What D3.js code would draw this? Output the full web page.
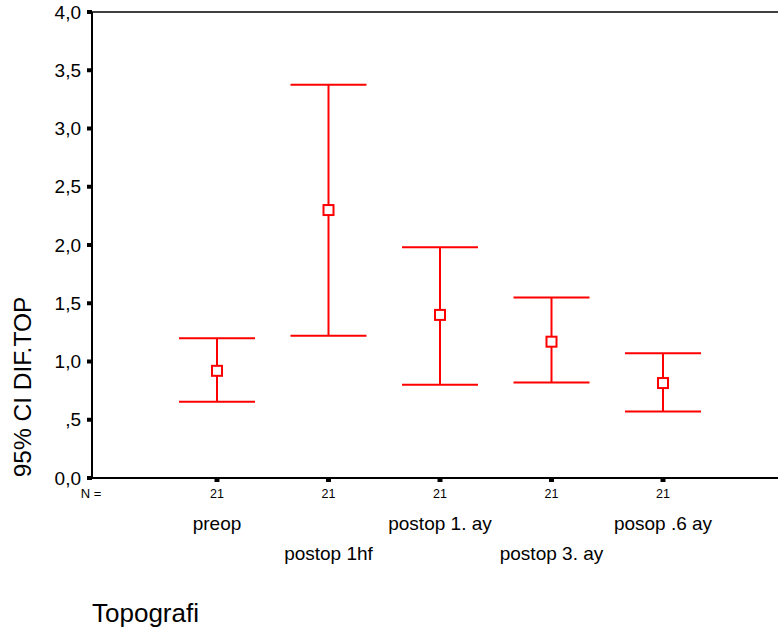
<!DOCTYPE html>
<html><head><meta charset="utf-8">
<script src="https://cdn.jsdelivr.net/npm/d3@7"></script>
<style>body{margin:0;background:#fff}svg{display:block;font-family:Arial,"Liberation Sans",sans-serif}</style>
</head><body>
<svg id="c" width="778" height="629"></svg>
<script>
const categories = ["preop","postop 1hf","postop 1. ay","postop 3. ay","posop .6 ay"];
const means = [0.92, 2.30, 1.40, 1.17, 0.815];
const upper = [1.20, 3.375, 1.98, 1.55, 1.07];
const lower = [0.655, 1.22, 0.80, 0.82, 0.57];
const nValues = [21, 21, 21, 21, 21];
const yTicks = [0, 0.5, 1.0, 1.5, 2.0, 2.5, 3.0, 3.5, 4.0];
const yTickLabels = ["0,0", ",5", "1,0", "1,5", "2,0", "2,5", "3,0", "3,5", "4,0"];

const svg = d3.select("#c");
const x0 = 92, yTop = 12, yBot = 478;
const x = d3.scalePoint().domain(categories).range([217, 663]);
const y = d3.scaleLinear().domain([0, 4]).range([yBot, yTop]);
const red = "#ff0000";

// frame lines
svg.append("line").attr("x1", x0).attr("x2", 778).attr("y1", yBot).attr("y2", yBot).attr("stroke", "#000").attr("stroke-width", 2);
svg.append("line").attr("x1", x0).attr("x2", 778).attr("y1", yTop).attr("y2", yTop).attr("stroke", "#000").attr("stroke-width", 1.5);
svg.append("line").attr("x1", x0).attr("x2", x0).attr("y1", yTop).attr("y2", yBot).attr("stroke", "#000").attr("stroke-width", 2);

// y ticks
const yAxis = svg.append("g");
yTicks.forEach((t, i) => {
  yAxis.append("rect").attr("x", x0 - 5).attr("y", y(t) - 2).attr("width", 5).attr("height", 4).attr("fill", "#000");
  yAxis.append("text").attr("x", 81).attr("y", y(t)).attr("dy", "0.35em").attr("text-anchor", "end")
    .attr("font-size", 19).text(yTickLabels[i]);
});

// x ticks
categories.forEach((c, i) => {
  svg.append("rect").attr("x", x(c) - 2.5).attr("y", yBot).attr("width", 5).attr("height", 4).attr("fill", "#000");
  svg.append("text").attr("x", x(c)).attr("y", 498).attr("text-anchor", "middle").attr("font-size", 12.5).text(nValues[i]);
  svg.append("text").attr("x", x(c)).attr("y", i % 2 === 0 ? 530 : 560).attr("text-anchor", "middle").attr("font-size", 19).text(c);
});
svg.append("text").attr("x", 91).attr("y", 498).attr("text-anchor", "middle").attr("font-size", 13).text("N =");

// error bars
const g = svg.append("g").attr("stroke", red).attr("stroke-width", 2).attr("fill", "none");
categories.forEach((c, i) => {
  const cx = x(c);
  g.append("line").attr("x1", cx).attr("x2", cx).attr("y1", y(upper[i])).attr("y2", y(lower[i]));
  g.append("line").attr("x1", cx - 38).attr("x2", cx + 38).attr("y1", y(upper[i])).attr("y2", y(upper[i]));
  g.append("line").attr("x1", cx - 38).attr("x2", cx + 38).attr("y1", y(lower[i])).attr("y2", y(lower[i]));
  g.append("rect").attr("x", cx - 5).attr("y", y(means[i]) - 5).attr("width", 10).attr("height", 10).attr("fill", "#fff");
});

// titles
svg.append("text").attr("transform", "translate(31,387) rotate(-90)").attr("text-anchor", "middle")
  .attr("font-size", 24.5).text("95% CI DIF.TOP");
svg.append("text").attr("x", 92).attr("y", 622).attr("font-size", 26).text("Topografi");
</script>
</body></html>
